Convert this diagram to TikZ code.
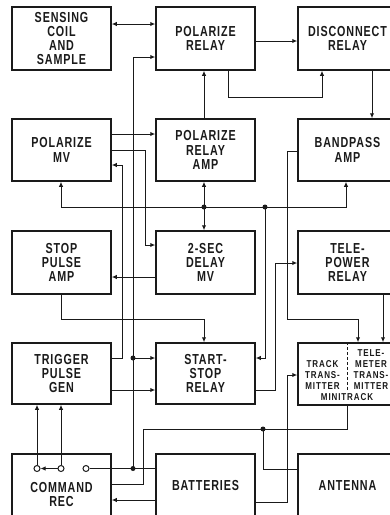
\documentclass[tikz,border=0pt]{standalone}
\usepackage{fontspec}
\newfontfamily\lbl{Liberation Sans}[FakeStretch=0.74,LetterSpace=6]
\newfontfamily\lbls{Liberation Sans}[FakeStretch=0.8,LetterSpace=9]
\usetikzlibrary{arrows.meta}
\definecolor{ink}{HTML}{1A1A1A}
\tikzset{
 box/.style={draw=ink, line width=1.5pt, minimum width=99pt, minimum height=63pt, inner sep=0pt, align=center, font=\lbl\bfseries\fontsize{14.5}{14.3}\selectfont, text=ink},
 bigtxt/.style={align=center, inner sep=0pt, font=\lbl\bfseries\fontsize{14.5}{14.3}\selectfont, text=ink},
 small/.style={font=\lbls\bfseries\fontsize{10}{10.9}\selectfont, text=ink, align=center, inner sep=0pt},
 wire/.style={draw=ink, line width=1pt},
 arr/.style={wire, -{Latex[length=5pt,width=4.5pt]}},
 barr/.style={wire, {Latex[length=5pt,width=4.5pt]}-{Latex[length=5pt,width=4.5pt]}},
 jdot/.style={circle, fill=ink, inner sep=0pt, minimum size=5pt},
 term/.style={circle, draw=ink, line width=1pt, fill=white, inner sep=0pt, minimum size=6pt},
}
\begin{document}
\begin{tikzpicture}[x=1pt,y=-1pt]
\useasboundingbox (0,0) rectangle (390,515);
\fill[white] (0,0) rectangle (390,515);
\clip (0,0) rectangle (390,515);
% boxes
\node[box] (sens) at (61.5,38.5) {SENSING\\COIL\\AND\\SAMPLE};
\node[box] (polr) at (205.5,38.5) {POLARIZE\\RELAY};
\node[box] (disc) at (347.5,38.5) {DISCONNECT\\RELAY};
\node[box, minimum height=62pt] (pmv) at (61.5,150) {POLARIZE\\MV};
\node[box, minimum height=62pt] (pra) at (205.5,150) {POLARIZE\\RELAY\\AMP};
\node[box, minimum height=62pt] (band) at (347.5,150) {BANDPASS\\AMP};
\node[box] (stop) at (61.5,262.5) {STOP\\PULSE\\AMP};
\node[box] (delay) at (205.5,262.5) {2-SEC\\DELAY\\MV};
\node[box] (tele) at (347.5,262.5) {TELE-\\POWER\\RELAY};
\node[box, minimum height=61pt] (trig) at (61.5,373.5) {TRIGGER\\PULSE\\GEN};
\node[box, minimum height=61pt] (ss) at (205.5,373.5) {START-\\STOP\\RELAY};
\node[box, minimum height=62pt] (trk) at (347.5,374) {};
\node[box] (cmd) at (61.5,485.5) {};
\node[box] (bat) at (205.5,485.5) {BATTERIES};
\node[box] (ant) at (347.5,485.5) {ANTENNA};
% texts inside track box and command rec
\node[small] (trkL) at (322.5,375) {TRACK\\TRANS-\\MITTER};
\node[small] (trkR) at (371,369.5) {TELE-\\METER\\TRANS-\\MITTER};
\node[small] (trkB) at (347,397.5) {MINITRACK};
\draw[ink, line width=1pt, dash pattern=on 3pt off 2pt] (trk.north -| 347,0) -- (347,390);
\node[bigtxt] (cmdtxt) at (61.5,494.5) {COMMAND\\REC};
% junctions
\coordinate (j1) at (133,358);
\coordinate (j2) at (133,468.5);
\coordinate (j3) at (204,207);
\coordinate (j4) at (265,207);
\coordinate (j5) at (263,429);
% connectors
\draw[barr] (sens.east |- 0,24) -- (polr.west |- 0,24);
\draw[arr] (j2) -- (133,57) -- (polr.west |- 0,57);
\draw[arr] (j1) -- (ss.west |- j1);
\draw[arr] (polr.east |- 0,41) -- (disc.west |- 0,41);
\draw[arr] (polr.south -| 228,0) -- (228,97) -- (322,97) -- (disc.south -| 322,0);
\draw[arr] (disc.south -| 372,0) -- (band.north -| 372,0);
\draw[arr] (pra.north -| 204,0) -- (polr.south -| 204,0);
\draw[arr] (pmv.east |- 0,134) -- (pra.west |- 0,134);
\draw[arr] (pmv.east |- 0,150) -- (145,150) -- (145,245) -- (delay.west |- 0,245);
\draw[arr] (trig.east |- 0,358) -- (122,358) -- (122,165) -- (pmv.east |- 0,165);
\draw[barr] (pmv.south -| 61,0) -- (61,207) -- (346,207) -- (band.south -| 346,0);
\draw[arr] (j3) -- (pra.south -| j3);
\draw[arr] (j3) -- (delay.north -| j3);
\draw[arr] (j4) -- (265,358) -- (ss.east |- 0,358);
\draw[arr] (delay.west |- 0,277) -- (stop.east |- 0,277);
\draw[arr] (stop.south -| 61,0) -- (61,319) -- (204,319) -- (ss.north -| 204,0);
\draw[arr] (band.west |- 0,151) -- (287,151) -- (287,319) -- (358,319) -- (trk.north -| 358,0);
\draw[arr] (tele.south -| 383,0) -- (trk.north -| 383,0);
\draw[arr] (ss.east |- 0,390) -- (275,390) -- (275,263) -- (tele.west |- 0,263);
\draw[arr] (trig.east |- 0,390) -- (ss.west |- 0,390);
\draw[wire] (cmd.east |- 0,484) -- (143,484) -- (143,429) -- (347,429) -- (trk.south -| 347,0);
\draw[wire] (j5) -- (263,469) -- (ant.west |- 0,469);
\draw[arr] (bat.east |- 0,502) -- (287,502) -- (287,375) -- (trk.west |- 0,375);
\draw[arr] (bat.west |- 0,500) -- (cmd.east |- 0,500);
% terminals
\node[term] (t1) at (37,468.5) {};
\node[term] (t2) at (61,468.5) {};
\node[term] (t3) at (86,468.5) {};
\draw[arr] (t1.north) -- (trig.south -| t1);
\draw[arr] (t2.north) -- (trig.south -| t2);
\draw[arr] (t2.west) -- (t1.east);
\draw[wire] (t3.east) -- (bat.west |- t3);
% junction dots
\foreach \j in {j1,j2,j3,j4,j5} \node[jdot] at (\j) {};
\end{tikzpicture}
\end{document}
